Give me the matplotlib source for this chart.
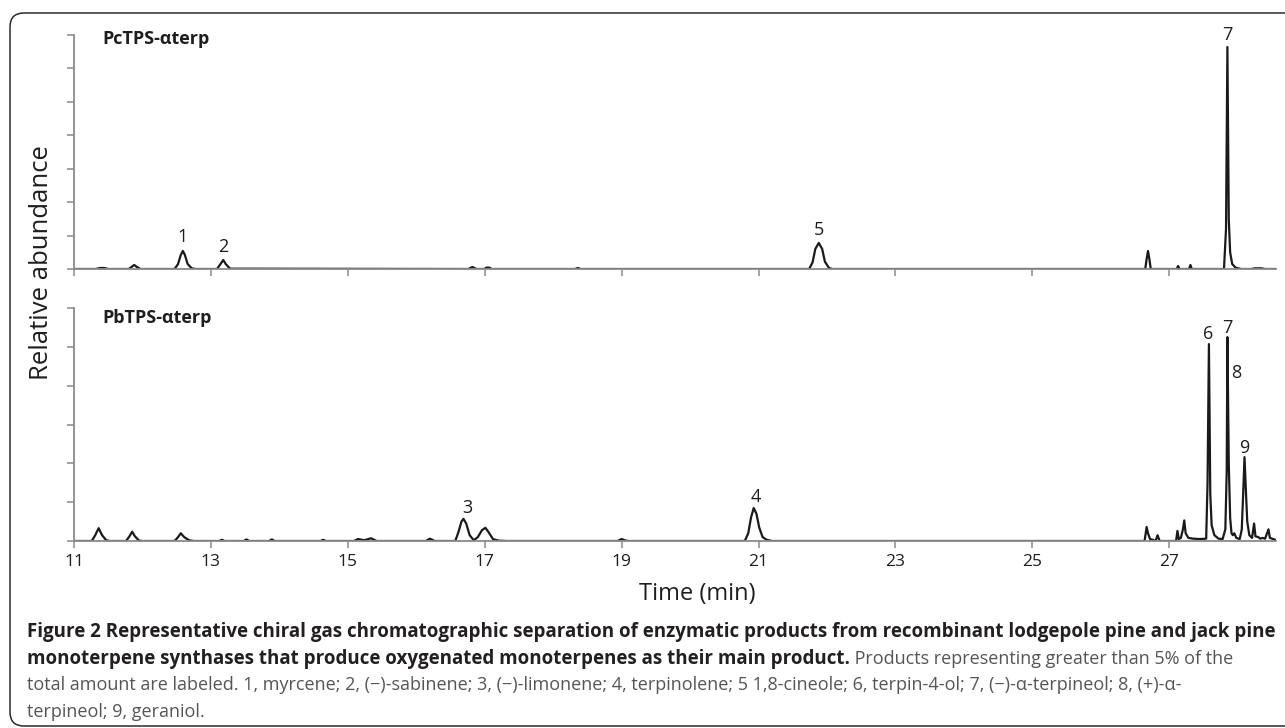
import matplotlib
matplotlib.use("Agg")
from matplotlib import pyplot as plt
from matplotlib.patches import FancyBboxPatch
from matplotlib.transforms import IdentityTransform

W, H = 1285, 728
plt.rcParams['font.family'] = ['Open Sans', 'DejaVu Sans']

# trace of the PcTPS run (time in min, arbitrary units)
top_t = [11.00, 11.32, 11.38, 11.44, 11.50,
         11.80, 11.84, 11.88, 11.92, 11.97,
         12.47, 12.52, 12.56, 12.59, 12.62, 12.66, 12.72, 12.78,
         13.09, 13.13, 13.18, 13.22, 13.28,
         16.76, 16.82, 16.88, 17.00, 17.02, 17.07, 17.10,
         18.32, 18.36, 18.40,
         21.74, 21.79, 21.83, 21.88, 21.93, 21.97, 22.03, 22.08,
         26.65, 26.67, 26.69, 26.71, 26.73,
         27.11, 27.13, 27.15,
         27.29, 27.31, 27.33,
         27.80, 27.83, 27.85, 27.87, 27.89, 27.92, 27.97, 28.05,
         28.20, 28.25, 28.35, 28.40, 28.55]
top_y = [0, 0, 0.03, 0.03, 0,
         0, 0.06, 0.12, 0.06, 0,
         0, 0.15, 0.42, 0.54, 0.42, 0.15, 0.02, 0,
         0, 0.12, 0.27, 0.14, 0.01,
         0, 0.06, 0, 0, 0.04, 0.04, 0,
         0, 0.03, 0,
         0, 0.20, 0.60, 0.78, 0.60, 0.22, 0.03, 0,
         0, 0.30, 0.54, 0.30, 0,
         0, 0.09, 0,
         0, 0.12, 0,
         0, 1.2, 6.64, 1.5, 0.5, 0.15, 0.04, 0,
         0, 0.02, 0.02, 0, 0]

# trace of the PbTPS run
bot_t = [11.00, 11.26, 11.31, 11.36, 11.41, 11.47, 11.52,
         11.76, 11.81, 11.85, 11.89, 11.95, 12.00,
         12.47, 12.52, 12.56, 12.61, 12.68, 12.75,
         13.12, 13.16, 13.20,
         13.48, 13.52, 13.56,
         13.85, 13.89, 13.93,
         14.60, 14.64, 14.68,
         15.09, 15.15, 15.24, 15.34, 15.42,
         16.14, 16.20, 16.27,
         16.57, 16.62, 16.66, 16.69, 16.73, 16.78, 16.84, 16.90, 16.96, 17.01, 17.06, 17.12, 17.20, 17.32,
         18.94, 19.00, 19.06, 19.10,
         20.80, 20.85, 20.89, 20.93, 20.97, 21.01, 21.06, 21.12, 21.20,
         26.64, 26.67, 26.69, 26.72, 26.76, 26.80, 26.83, 26.86,
         27.10, 27.12, 27.14, 27.17, 27.20, 27.22, 27.24, 27.28, 27.35, 27.45, 27.54,
         27.56, 27.58, 27.60, 27.62, 27.66, 27.72, 27.78, 27.82,
         27.84, 27.85, 27.87, 27.89, 27.91, 27.93, 27.95, 27.98, 28.03, 28.06,
         28.08, 28.10, 28.12, 28.14, 28.17, 28.21, 28.24, 28.26, 28.30, 28.33, 28.36, 28.40, 28.45, 28.47, 28.52, 28.55]
bot_y = [0, 0, 0.15, 0.33, 0.15, 0.02, 0,
         0, 0.12, 0.24, 0.12, 0.01, 0,
         0, 0.10, 0.20, 0.10, 0.02, 0,
         0, 0.03, 0,
         0, 0.04, 0,
         0, 0.04, 0,
         0, 0.03, 0,
         0, 0.05, 0.02, 0.07, 0,
         0, 0.06, 0,
         0, 0.25, 0.50, 0.57, 0.45, 0.15, 0.02, 0.10, 0.28, 0.34, 0.22, 0.05, 0.01, 0,
         0, 0.05, 0.01, 0,
         0, 0.20, 0.60, 0.85, 0.70, 0.35, 0.10, 0.03, 0,
         0, 0.36, 0.20, 0.05, 0.03, 0, 0.15, 0,
         0, 0.26, 0.05, 0.08, 0.30, 0.53, 0.20, 0.08, 0.06, 0.05, 0.06,
         1.5, 5.07, 1.2, 0.40, 0.15, 0.06, 0.05, 0.30,
         1.8, 5.25, 2.0, 0.60, 0.20, 0.15, 0.20, 0.08, 0.05, 0.30,
         1.2, 2.16, 1.3, 0.50, 0.15, 0.08, 0.45, 0.12, 0.10, 0.06, 0.08, 0.06, 0.30, 0.08, 0.05, 0.03]

top_labels = ['1', '2', '5', '7']
top_label_t = [12.59, 13.18, 21.89, 27.85]
top_label_y = [0.96, 0.66, 1.17, 7.0]
bot_labels = ['3', '4', '6', '7', '8', '9']
bot_label_t = [16.74, 20.96, 27.57, 27.85, 27.98, 28.10]
bot_label_y = [0.85, 1.13, 5.33, 5.49, 4.33, 2.40]

time_ticks = [11, 13, 15, 17, 19, 21, 23, 25, 27]
panel_names = ['PcTPS-\u03b1terp', 'PbTPS-\u03b1terp']

caption_1 = ("Figure 2 Representative chiral gas chromatographic separation of enzymatic "
             "products from recombinant lodgepole pine and jack pine")
caption_2b = "monoterpene synthases that produce oxygenated monoterpenes as their main product."
caption_2 = " Products representing greater than 5% of the"
caption_3 = ("total amount are labeled. 1, myrcene; 2, (\u2212)-sabinene; 3, (\u2212)-limonene; "
             "4, terpinolene; 5 1,8-cineole; 6, terpin-4-ol; 7, (\u2212)-\u03b1-terpineol; 8, (+)-\u03b1-")
caption_4 = "terpineol; 9, geraniol."

fig = plt.figure(figsize=(W / 100, H / 100), dpi=100)

frame = FancyBboxPatch((10, 2), 1300, 713, boxstyle="round,pad=0,rounding_size=14",
                       transform=IdentityTransform(), fill=False, ec='#2b2b2b', lw=1.1)
fig.patches.append(frame)

ax_top = fig.add_axes([74 / W, 1 - 269 / H, 1202 / W, 234 / H])
ax_bot = fig.add_axes([74 / W, 1 - 541 / H, 1202 / W, 233 / H])

axis_grey = '#8a8a8a'

def style(ax, ymax, labels):
    ax.set_xlim(11, 28.56)
    ax.set_ylim(0, ymax)
    ax.set_yticks(range(ymax + 1))
    ax.set_yticklabels([])
    ax.set_xticks(time_ticks)
    if not labels:
        ax.set_xticklabels([])
    for s in ['top', 'right']:
        ax.spines[s].set_visible(False)
    for s in ['left', 'bottom']:
        ax.spines[s].set_color(axis_grey)
        ax.spines[s].set_linewidth(1.3)
    ax.tick_params(axis='both', direction='out', length=5, width=1.1, color=axis_grey,
                   labelcolor='#1e1e1e', labelsize=12.5, pad=4)
    ax.patch.set_alpha(0)

style(ax_top, 7, False)
style(ax_bot, 6, True)

ax_top.plot(top_t, top_y, color='#1a1a1a', lw=1.6, solid_joinstyle='round')
ax_bot.plot(bot_t, bot_y, color='#1a1a1a', lw=1.6, solid_joinstyle='round')

for lab, t, y in zip(top_labels, top_label_t, top_label_y):
    ax_top.text(t, y, lab, ha='center', va='center', fontsize=13, color='#1e1e1e')
for lab, t, y in zip(bot_labels, bot_label_t, bot_label_y):
    ax_bot.text(t, y, lab, ha='center', va='center', fontsize=13, color='#1e1e1e')

ax_top.text(0.0233, 0.983, panel_names[0], transform=ax_top.transAxes, ha='left', va='center',
            fontsize=13, weight='bold', color='#1e1e1e')
ax_bot.text(0.0233, 0.957, panel_names[1], transform=ax_bot.transAxes, ha='left', va='center',
            fontsize=13, weight='bold', color='#1e1e1e')

fig.text(42 / W, 1 - 263 / H, 'Relative abundance', rotation=90, ha='center', va='center',
         fontsize=18.5, color='#1e1e1e')
fig.text(697 / W, 1 - 600 / H, 'Time (min)', ha='center', va='baseline',
         fontsize=17, color='#1e1e1e')

# caption: bold lines sized so the first spans the box, plain lines sized off line 3
dark = '#231f20'
soft = '#555555'
base_fs = 11
c1 = fig.text(27 / W, 1 - 637 / H, caption_1, fontsize=base_fs, weight='bold', color=dark, va='baseline')
c3 = fig.text(27 / W, 1 - 690 / H, caption_3, fontsize=base_fs, color=soft, va='baseline')
fig.canvas.draw()
fs_b = base_fs * 1250 / c1.get_window_extent().width
fs_r = base_fs * 1160 / c3.get_window_extent().width
c1.set_fontsize(fs_b)
c3.set_fontsize(fs_r)
c2b = fig.text(27 / W, 1 - 664 / H, caption_2b, fontsize=fs_b, weight='bold', color=dark, va='baseline')
fig.text(27 / W, 1 - 717 / H, caption_4, fontsize=fs_r, color=soft, va='baseline')
fig.canvas.draw()
x_end = c2b.get_window_extent().x1
fig.text(x_end / W, 1 - 664 / H, caption_2, fontsize=fs_r, color=soft, va='baseline')

fig.savefig('out.png', dpi=100)
